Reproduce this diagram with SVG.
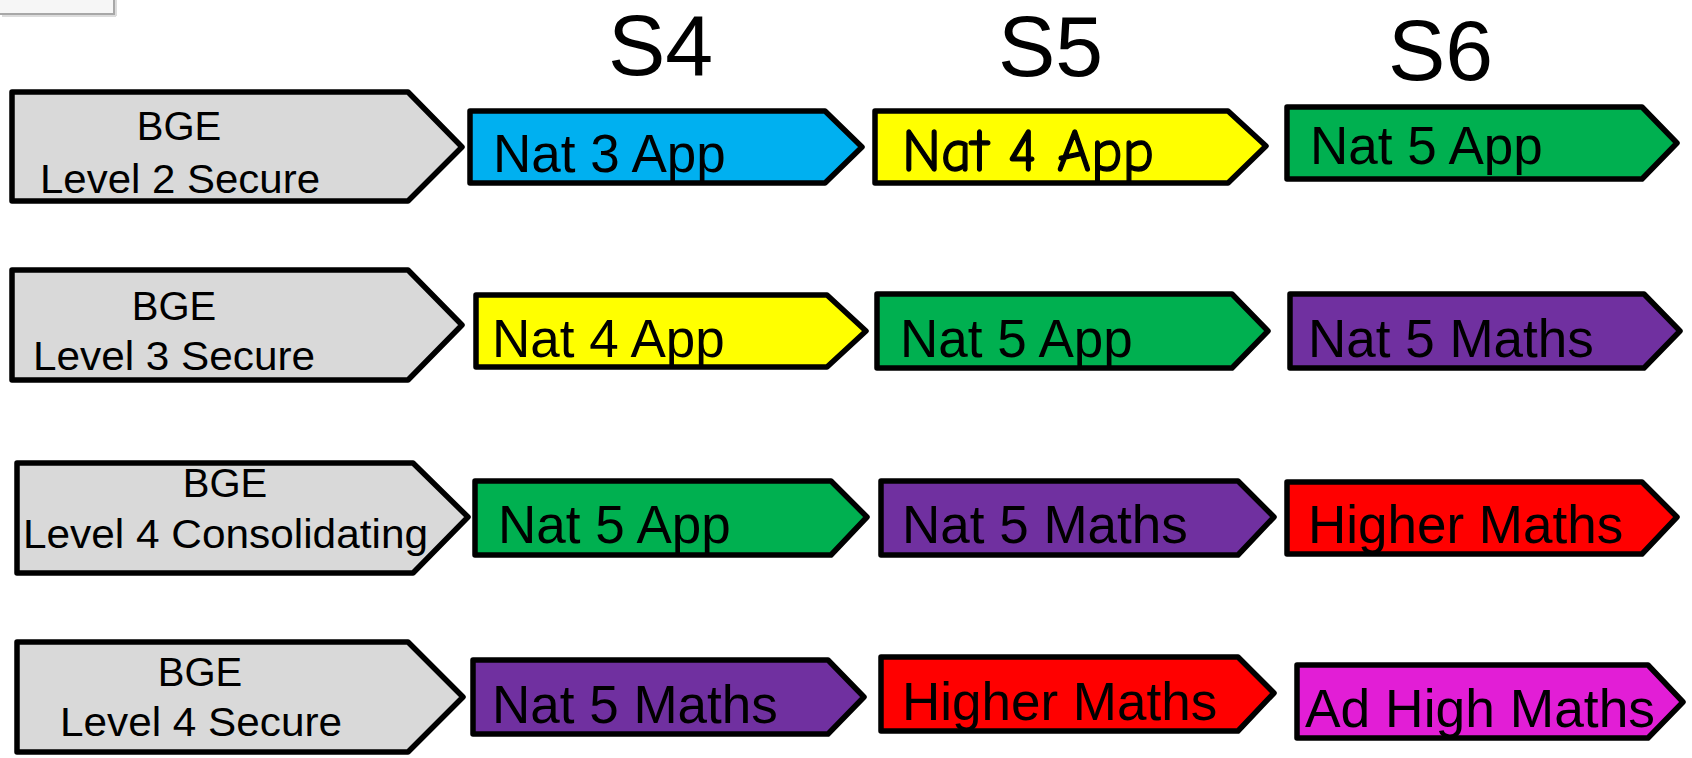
<svg xmlns="http://www.w3.org/2000/svg" width="1692" height="758" viewBox="0 0 1692 758">
<style>
.box{stroke:#000;stroke-width:5.5;stroke-linejoin:round}
.bge{fill:#d9d9d9}
.blue{fill:#00b0f0}
.yellow{fill:#ffff00}
.green{fill:#00b050}
.purple{fill:#7030a0}
.red{fill:#ff0000}
.mag{fill:#e21ed6}
text{font-family:"Liberation Sans",Arial,sans-serif;fill:#000}
.hdr{font-size:86px}
.bt{font-size:40px}
.lbl{font-size:53px}
.comic{font-family:"Comic Sans MS","Comic Neue","Liberation Sans",sans-serif;font-size:60px;stroke:#000;stroke-width:1.3}
</style>
<g id="frame-fragment">
<rect x="-6" y="-6" width="120" height="20" fill="#f6f6f6" stroke="#a8a8a8" stroke-width="2"/>
<line x1="2" y1="16" x2="116" y2="16" stroke="#dcdcdc" stroke-width="2"/>
<line x1="116" y1="0" x2="116" y2="16" stroke="#dcdcdc" stroke-width="2"/>
</g>
<g id="headers">
<text class="hdr" x="608" y="75">S4</text>
<text class="hdr" x="998" y="76">S5</text>
<text class="hdr" x="1388" y="80">S6</text>
</g>
<g id="connectors"></g>
<g id="bge-l2">
<path class="box bge" d="M12,92 H408 L462,147 L408,201 H12 Z"/>
<text class="bt" x="179" y="140" text-anchor="middle">BGE</text>
<text class="bt" x="40" y="193" textLength="280" lengthAdjust="spacingAndGlyphs">Level 2 Secure</text>
</g>
<g id="bge-l3">
<path class="box bge" d="M12,270 H408 L462,325 L408,380 H12 Z"/>
<text class="bt" x="174" y="320" text-anchor="middle">BGE</text>
<text class="bt" x="33" y="370" textLength="282" lengthAdjust="spacingAndGlyphs">Level 3 Secure</text>
</g>
<g id="bge-l4c">
<path class="box bge" d="M17,463 H413 L468,517 L413,573 H17 Z"/>
<text class="bt" x="225" y="497" text-anchor="middle">BGE</text>
<text class="bt" x="23" y="548" textLength="405" lengthAdjust="spacingAndGlyphs">Level 4 Consolidating</text>
</g>
<g id="bge-l4s">
<path class="box bge" d="M17,642 H408 L463,697 L408,752 H17 Z"/>
<text class="bt" x="200" y="686" text-anchor="middle">BGE</text>
<text class="bt" x="60" y="736" textLength="282" lengthAdjust="spacingAndGlyphs">Level 4 Secure</text>
</g>
<g id="r1-s4">
<path class="box blue" d="M470,111 H825 L862,147 L825,183 H470 Z"/>
<text class="lbl" x="493" y="172">Nat 3 App</text>
</g>
<g id="r1-s5">
<path class="box yellow" d="M875,111 H1228 L1266,146 L1228,183 H875 Z"/>
<text class="lbl comic" x="902" y="171" textLength="252" lengthAdjust="spacingAndGlyphs">Nat 4 App</text>
</g>
<g id="r1-s6">
<path class="box green" d="M1287,107 H1642 L1677,143 L1642,179 H1287 Z"/>
<text class="lbl" x="1310" y="164">Nat 5 App</text>
</g>
<g id="r2-s4">
<path class="box yellow" d="M476,295 H827 L866,331 L827,367 H476 Z"/>
<text class="lbl" x="492" y="357">Nat 4 App</text>
</g>
<g id="r2-s5">
<path class="box green" d="M877,294 H1232 L1268,331 L1232,368 H877 Z"/>
<text class="lbl" x="900" y="357">Nat 5 App</text>
</g>
<g id="r2-s6">
<path class="box purple" d="M1290,294 H1644 L1680,331 L1644,368 H1290 Z"/>
<text class="lbl" x="1308" y="357">Nat 5 Maths</text>
</g>
<g id="r3-s4">
<path class="box green" d="M475,481 H831 L867,517 L831,555 H475 Z"/>
<text class="lbl" x="498" y="543">Nat 5 App</text>
</g>
<g id="r3-s5">
<path class="box purple" d="M881,481 H1238 L1274,517 L1238,555 H881 Z"/>
<text class="lbl" x="902" y="543">Nat 5 Maths</text>
</g>
<g id="r3-s6">
<path class="box red" d="M1287,482 H1642 L1677,517 L1642,554 H1287 Z"/>
<text class="lbl" x="1308" y="543">Higher Maths</text>
</g>
<g id="r4-s4">
<path class="box purple" d="M473,660 H828 L864,697 L828,734 H473 Z"/>
<text class="lbl" x="492" y="723">Nat 5 Maths</text>
</g>
<g id="r4-s5">
<path class="box red" d="M881,657 H1238 L1274,693 L1238,731 H881 Z"/>
<text class="lbl" x="902" y="720">Higher Maths</text>
</g>
<g id="r4-s6">
<path class="box mag" d="M1297,665 H1648 L1683,702 L1648,738 H1297 Z"/>
<text class="lbl" x="1305" y="727" textLength="350" lengthAdjust="spacingAndGlyphs">Ad High Maths</text>
</g>
</svg>
